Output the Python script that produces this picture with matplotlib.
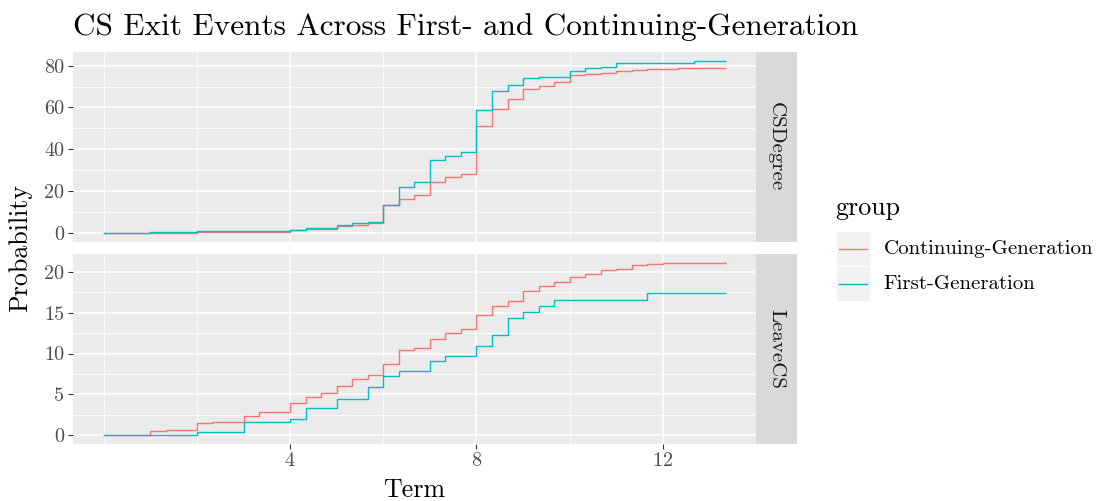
import matplotlib
matplotlib.use("Agg")
import matplotlib.pyplot as plt
from matplotlib.lines import Line2D
from matplotlib.patches import Rectangle

plt.rcParams['font.family'] = ['cmr10', 'DejaVu Sans']
plt.rcParams['axes.formatter.use_mathtext'] = True

# term grid (thirds of a year)
term = [0, 0.333, 0.667, 1, 1.333, 1.667, 2, 2.333, 2.667, 3, 3.333, 3.667,
        4, 4.333, 4.667, 5, 5.333, 5.667, 6, 6.333, 6.667, 7, 7.333, 7.667,
        8, 8.333, 8.667, 9, 9.333, 9.667, 10, 10.333, 10.667, 11, 11.333, 11.667,
        12, 12.333, 12.667, 13, 13.333]

csdeg_cont = [0, 0, 0, 0.2, 0.2, 0.2, 0.5, 0.5, 0.5, 0.5, 0.6, 0.6,
              1.3, 1.9, 1.9, 3.2, 4.0, 4.8, 13.2, 16.1, 18.2, 24.5, 26.9, 28.3,
              51.1, 59.2, 63.9, 68.7, 70.4, 72.0, 75.5, 76.2, 76.6, 77.4, 77.9, 78.2,
              78.5, 78.8, 78.8, 78.8, 78.8]
csdeg_first = [0, 0, 0, 0.5, 0.5, 0.5, 1.0, 1.0, 1.0, 1.0, 1.0, 1.0,
               1.6, 2.5, 2.5, 3.7, 5.0, 5.1, 13.3, 21.8, 24.2, 35.1, 37.0, 38.9,
               58.8, 68.1, 70.8, 73.9, 74.5, 74.6, 77.4, 78.8, 79.5, 81.2, 81.2, 81.2,
               81.2, 81.2, 82.0, 82.0, 82.4]
leave_cont = [0, 0, 0, 0.53, 0.65, 0.65, 1.55, 1.68, 1.68, 2.37, 2.82, 2.9,
              4.0, 4.74, 5.23, 6.05, 6.91, 7.36, 8.7, 10.39, 10.7, 11.74, 12.55, 13.05,
              14.68, 15.75, 16.4, 17.67, 18.3, 18.69, 19.3, 19.67, 20.16, 20.37, 20.77, 20.94,
              21.06, 21.1, 21.1, 21.1, 21.15]
leave_first = [0, 0, 0, 0, 0, 0, 0.45, 0.45, 0.45, 1.64, 1.64, 1.64,
               2.04, 3.4, 3.4, 4.38, 4.38, 5.85, 7.28, 7.89, 7.9, 9.12, 9.73, 9.73,
               10.96, 12.27, 14.3, 15.05, 15.79, 16.6, 16.6, 16.6, 16.6, 16.6, 16.6, 17.42,
               17.42, 17.42, 17.42, 17.42, 17.42]

groups = ['Continuing-Generation', 'First-Generation']
colors = ['#F8766D', '#00BFC4']
panels = [('CSDegree', [csdeg_cont, csdeg_first], [0, 20, 40, 60, 80], [10, 30, 50, 70], (-4.12, 86.5)),
          ('LeaveCS', [leave_cont, leave_first], [0, 5, 10, 15, 20], [2.5, 7.5, 12.5, 17.5], (-1.06, 22.2))]

W, H = 1096, 501
fig = plt.figure(figsize=(W / 100, H / 100), dpi=100)

def fx(px):
    return px / W

def fy(py):
    return 1 - py / H

left, right = 72.7, 756
boxes = [(52, 241.7), (253.7, 444)]

for i, (name, series, major, minor, ylim) in enumerate(panels):
    top, bot = boxes[i]
    ax = fig.add_axes([fx(left), fy(bot), fx(right - left), (bot - top) / H])
    ax.set_facecolor('#EBEBEB')
    for s in ax.spines.values():
        s.set_visible(False)
    for v in minor:
        ax.axhline(v, color='white', lw=0.55, zorder=0)
    for v in major:
        ax.axhline(v, color='white', lw=1.1, zorder=0)
    for v in [0, 2, 6, 10]:
        ax.axvline(v, color='white', lw=0.55, zorder=0)
    for v in [4, 8, 12]:
        ax.axvline(v, color='white', lw=1.1, zorder=0)
    for vals, c in zip(series, colors):
        ax.step(term, vals, where='post', color=c, lw=1.0, zorder=2)
    ax.set_xlim(-0.667, 14.0)
    ax.set_ylim(*ylim)
    ax.set_yticks(major)
    ax.set_yticklabels([str(v) for v in major])
    ax.set_xticks([4, 8, 12])
    ax.tick_params(colors='#333333', length=3.5, width=0.8, labelsize=14.5,
                   labelcolor='#4D4D4D', pad=2.5)
    if i == 0:
        ax.tick_params(axis='x', length=0, labelbottom=False)
    # strip
    sax = fig.add_axes([fx(right), fy(bot), fx(796.7 - right), (bot - top) / H])
    sax.set_facecolor('#D9D9D9')
    sax.set_xticks([])
    sax.set_yticks([])
    for s in sax.spines.values():
        s.set_visible(False)
    sax.text(0.5, 0.5, name, rotation=270, ha='center', va='center',
             fontsize=15, color='#1A1A1A', transform=sax.transAxes)

fig.text(fx(73), fy(35), 'CS Exit Events Across First- and Continuing-Generation',
         fontsize=22.5, ha='left', va='baseline')
fig.text(fx(20), fy(248), 'Probability', rotation=90, fontsize=18.7, ha='center', va='center')
fig.text(fx(414.5), fy(490), 'Term', fontsize=18.7, ha='center', va='center')

# legend
fig.text(fx(835), fy(208), 'group', fontsize=18.7, ha='left', va='center')
for j, (g, c) in enumerate(zip(groups, colors)):
    y0 = 231.7 + j * 35
    fig.patches.append(Rectangle((fx(836.7), fy(y0 + 34)), fx(33.3), 34 / H,
                                 transform=fig.transFigure, facecolor='#F2F2F2',
                                 edgecolor='none'))
    fig.lines.append(Line2D([fx(839.3), fx(867.3)], [fy(y0 + 17), fy(y0 + 17)],
                            transform=fig.transFigure, color=c, lw=1.0))
    fig.text(fx(883.5), fy(y0 + 17), g, fontsize=15, ha='left', va='center')

fig.savefig('out.png', dpi=100)
